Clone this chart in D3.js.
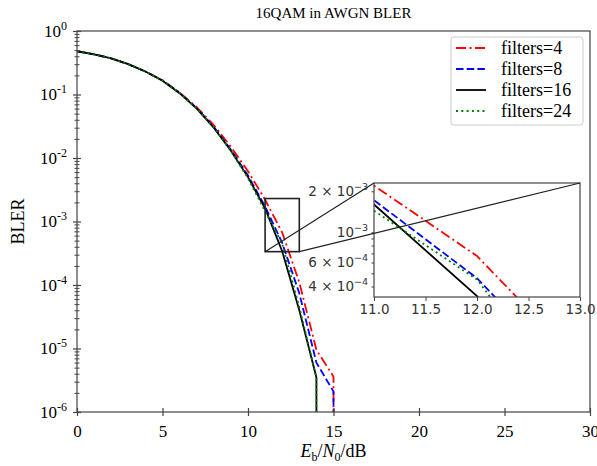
<!DOCTYPE html>
<html>
<head>
<meta charset="utf-8">
<script src="https://cdn.jsdelivr.net/npm/d3@7"></script>
<style>
body { margin: 0; background: #fff; }
</style>
</head>
<body>
<div class="bler-plot"></div>
<script>
// Eb/N0 points (dB) and BLER per model
const snr = [0, 1, 2, 3, 4, 5, 6, 7, 8, 9, 10, 11, 12, 13, 14, 15, 16];
const filters4 = [0.48, 0.43, 0.37, 0.30, 0.23, 0.168, 0.108, 0.063, 0.033, 0.015, 0.0062, 0.0022, 0.00067, 0.00011, 0.0000095, 0.0000036, 0];
const filters8 = [0.48, 0.43, 0.37, 0.30, 0.23, 0.166, 0.106, 0.061, 0.031, 0.0135, 0.0053, 0.00172, 0.00046, 0.000074, 0.000006, 0.0000021, 0];
const filters16 = [0.48, 0.43, 0.37, 0.30, 0.23, 0.165, 0.105, 0.06, 0.03, 0.013, 0.005, 0.0016, 0.00034, 0.00004, 0.0000035, 0, 0];
const filters24 = [0.48, 0.43, 0.37, 0.30, 0.23, 0.165, 0.105, 0.06, 0.03, 0.013, 0.0048, 0.00144, 0.00045, 0.000045, 0.0000035, 0, 0];

const names = ["filters=4", "filters=8", "filters=16", "filters=24"];
const colors = ["#ff0000", "#0000ff", "#000000", "#008000"];
const dashes = ["10,3.5,2,3.5", "7.5,3.2", null, "2,3.3"];

const xTicks = [0, 5, 10, 15, 20, 25, 30];
const yTicks = [1, 1e-1, 1e-2, 1e-3, 1e-4, 1e-5, 1e-6];
const insetX = [11, 13];
const insetY = [3.35e-4, 2.3e-3];
const insetXTicks = [11.0, 11.5, 12.0, 12.5, 13.0];
const insetYLabelled = [2e-3, 1e-3, 6e-4, 4e-4];
const insetYMinor = [4e-4, 5e-4, 6e-4, 7e-4, 8e-4, 9e-4, 1e-3, 2e-3];

const width = 597, height = 466;
const margin = {left: 77, top: 31, right: 7, bottom: 54};
const serif = "'Liberation Serif', 'Times New Roman', serif";
const sans = "'DejaVu Sans', sans-serif";
const axisColor = "#444";

const series = [filters4, filters8, filters16, filters24].map((vals, i) => ({
    name: names[i], color: colors[i], dash: dashes[i],
    points: snr.map((x, j) => ({x: x, y: vals[j]}))
}));

const svg = d3.select(".bler-plot")
    .append("svg")
    .attr("width", width)
    .attr("height", height);

const x = d3.scaleLinear().domain([0, 30]).range([margin.left, width - margin.right]);
const y = d3.scaleLog().domain([1e-6, 1]).range([height - margin.bottom, margin.top]);

// log scale can't take 0, clip like matplotlib does
const clipVal = v => Math.max(v, 1e-300);

svg.append("defs").append("clipPath").attr("id", "main-clip")
    .append("rect")
    .attr("x", x(0)).attr("y", y(1))
    .attr("width", x(30) - x(0)).attr("height", y(1e-6) - y(1));

const line = d3.line().x(d => x(d.x)).y(d => y(clipVal(d.y)));

svg.append("g").attr("clip-path", "url(#main-clip)")
    .selectAll("path")
    .data(series)
    .enter()
    .append("path")
    .attr("d", d => line(d.points))
    .attr("fill", "none")
    .attr("stroke", d => d.color)
    .attr("stroke-width", 1.8)
    .attr("stroke-dasharray", d => d.dash);

// frame
svg.append("rect")
    .attr("x", x(0)).attr("y", y(1))
    .attr("width", x(30) - x(0)).attr("height", y(1e-6) - y(1))
    .attr("fill", "none").attr("stroke", axisColor).attr("stroke-width", 1.2);

// x axis
const xAxis = svg.append("g")
    .attr("transform", `translate(0,${y(1e-6)})`)
    .call(d3.axisBottom(x).tickValues(xTicks).tickSize(4).tickPadding(9));
xAxis.select(".domain").remove();
xAxis.selectAll(".tick line").attr("y1", -4).attr("stroke", axisColor).attr("stroke-width", 1.2);
xAxis.selectAll(".tick text").style("font-family", serif).style("font-size", "17px").attr("fill", "#000");

// y axis, minor ticks first
let minor = [];
yTicks.slice(1).forEach(t => { for (let m = 2; m <= 9; m++) minor.push(t * m); });
const yMinor = svg.append("g")
    .attr("transform", `translate(${x(0)},0)`)
    .call(d3.axisLeft(y).tickValues(minor).tickSize(2.5).tickFormat(""));
yMinor.select(".domain").remove();
yMinor.selectAll(".tick line").attr("x1", 2.5).attr("stroke", axisColor);

const yAxis = svg.append("g")
    .attr("transform", `translate(${x(0)},0)`)
    .call(d3.axisLeft(y).tickValues(yTicks).tickSize(4).tickPadding(6));
yAxis.select(".domain").remove();
yAxis.selectAll(".tick line").attr("x1", 4).attr("stroke", axisColor).attr("stroke-width", 1.2);
yAxis.selectAll(".tick text")
    .style("font-family", serif).style("font-size", "17px").attr("fill", "#000")
    .text("")
    .each(function(d) {
        const t = d3.select(this);
        const e = Math.round(Math.log10(d));
        t.append("tspan").text("10");
        t.append("tspan").attr("dy", -7).style("font-size", "12px")
            .text(e === 0 ? "0" : "-" + Math.abs(e));
    });

// title and labels
svg.append("text")
    .attr("x", (x(0) + x(30)) / 2).attr("y", 18)
    .attr("text-anchor", "middle")
    .style("font-family", serif).style("font-size", "15px")
    .text("16QAM in AWGN BLER");

svg.append("text")
    .attr("transform", `translate(24,${(y(1) + y(1e-6)) / 2}) rotate(-90)`)
    .attr("text-anchor", "middle")
    .style("font-family", serif).style("font-size", "18px")
    .text("BLER");

const xl = svg.append("text")
    .attr("x", (x(0) + x(30)) / 2).attr("y", 457)
    .attr("text-anchor", "middle")
    .style("font-family", serif).style("font-size", "18px");
xl.append("tspan").style("font-style", "italic").text("E");
xl.append("tspan").style("font-size", "12px").attr("dy", 4).text("b");
xl.append("tspan").attr("dy", -4).text("/");
xl.append("tspan").style("font-style", "italic").text("N");
xl.append("tspan").style("font-size", "12px").attr("dy", 4).text("0");
xl.append("tspan").attr("dy", -4).text("/dB");

// legend
const legend = svg.append("g").attr("transform", "translate(451,37)");
legend.append("rect")
    .attr("width", 132).attr("height", 88).attr("rx", 3)
    .attr("fill", "#fff").attr("stroke", "#ccc");
const entries = legend.selectAll(".entry")
    .data(series)
    .enter()
    .append("g")
    .attr("transform", (d, i) => `translate(0,${11 + i * 21})`);
entries.append("line")
    .attr("x1", 5).attr("x2", 35)
    .attr("stroke", d => d.color).attr("stroke-width", 1.8)
    .attr("stroke-dasharray", d => d.dash);
entries.append("text")
    .attr("x", 50).attr("y", 6)
    .style("font-family", serif).style("font-size", "18px")
    .text(d => d.name);

// zoom inset
const ix = d3.scaleLinear().domain(insetX).range([374, 580]);
const iy = d3.scaleLog().domain(insetY).range([297, 183]);

svg.select("defs").append("clipPath").attr("id", "inset-clip")
    .append("rect")
    .attr("x", ix(11)).attr("y", iy(insetY[1]))
    .attr("width", ix(13) - ix(11)).attr("height", iy(insetY[0]) - iy(insetY[1]));

svg.append("rect")
    .attr("x", ix(11)).attr("y", iy(insetY[1]))
    .attr("width", ix(13) - ix(11)).attr("height", iy(insetY[0]) - iy(insetY[1]))
    .attr("fill", "#fff");

const iline = d3.line().x(d => ix(d.x)).y(d => iy(clipVal(d.y)));
svg.append("g").attr("clip-path", "url(#inset-clip)")
    .selectAll("path")
    .data(series)
    .enter()
    .append("path")
    .attr("d", d => iline(d.points))
    .attr("fill", "none")
    .attr("stroke", d => d.color)
    .attr("stroke-width", 1.8)
    .attr("stroke-dasharray", d => d.dash);

svg.append("rect")
    .attr("x", ix(11)).attr("y", iy(insetY[1]))
    .attr("width", ix(13) - ix(11)).attr("height", iy(insetY[0]) - iy(insetY[1]))
    .attr("fill", "none").attr("stroke", axisColor).attr("stroke-width", 1.2);

const ixAxis = svg.append("g")
    .attr("transform", `translate(0,${iy(insetY[0])})`)
    .call(d3.axisBottom(ix).tickValues(insetXTicks).tickSize(4).tickPadding(3).tickFormat(d3.format(".1f")));
ixAxis.select(".domain").remove();
ixAxis.selectAll(".tick line").attr("stroke", axisColor);
ixAxis.selectAll(".tick text").style("font-family", sans).style("font-size", "13.5px").attr("fill", "#333");

const iyMinor = svg.append("g")
    .attr("transform", `translate(${ix(11)},0)`)
    .call(d3.axisLeft(iy).tickValues(insetYMinor).tickSize(2.5).tickFormat(""));
iyMinor.select(".domain").remove();
iyMinor.selectAll(".tick line").attr("stroke", axisColor);

const iyAxis = svg.append("g")
    .attr("transform", `translate(${ix(11)},0)`)
    .call(d3.axisLeft(iy).tickValues(insetYLabelled).tickSize(0).tickPadding(6));
iyAxis.select(".domain").remove();
iyAxis.selectAll(".tick text")
    .style("font-family", sans).style("font-size", "13.5px").attr("fill", "#333")
    .text("")
    .each(function(d) {
        const e = Math.floor(Math.log10(d) + 1e-9);
        const m = Math.round(d / Math.pow(10, e));
        const t = d3.select(this);
        t.append("tspan").text(m === 1 ? "10" : m + " \u00d7 10");
        t.append("tspan").attr("dy", -6).style("font-size", "9.5px").text("\u2212" + Math.abs(e));
    });

// box on main plot and connector lines
svg.append("rect")
    .attr("x", x(insetX[0])).attr("y", y(insetY[1]))
    .attr("width", x(insetX[1]) - x(insetX[0])).attr("height", y(insetY[0]) - y(insetY[1]))
    .attr("fill", "none").attr("stroke", "#222").attr("stroke-width", 1.6);

const links = [
    [x(insetX[0]), y(insetY[0]), ix(11), iy(insetY[1])],
    [x(insetX[1]), y(insetY[0]), ix(13), iy(insetY[1])]
];
svg.selectAll(".link")
    .data(links)
    .enter()
    .append("line")
    .attr("x1", d => d[0]).attr("y1", d => d[1])
    .attr("x2", d => d[2]).attr("y2", d => d[3])
    .attr("stroke", "#222").attr("stroke-width", 1.2);
</script>
</body>
</html>
